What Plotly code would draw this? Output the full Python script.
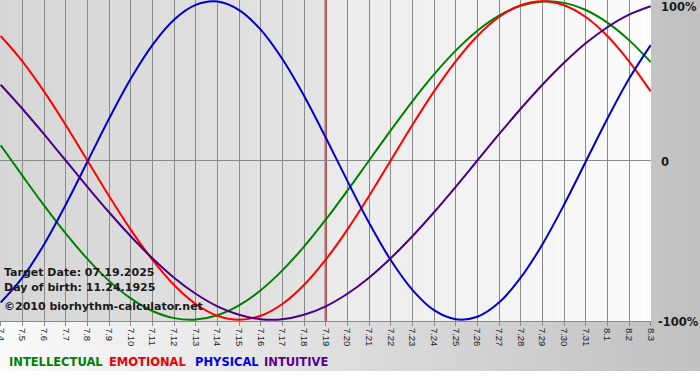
import plotly.graph_objects as go

# ---- data ----
dates = ["7.4", "7.5", "7.6", "7.7", "7.8", "7.9", "7.10", "7.11", "7.12", "7.13",
         "7.14", "7.15", "7.16", "7.17", "7.18", "7.19", "7.20", "7.21", "7.22", "7.23",
         "7.24", "7.25", "7.26", "7.27", "7.28", "7.29", "7.30", "7.31", "8.1", "8.2", "8.3"]

physical = [-89.2, -73.6, -52.7, -27.8, -0.8, 26.2, 51.3, 72.5, 88.4, 97.7,
            99.8, 94.5, 82.2, 63.7, 40.6, 14.4, -12.8, -39.1, -62.5, -81.2,
            -94.0, -99.7, -98.1, -89.2, -73.6, -52.7, -27.8, -0.8, 26.2, 51.3, 72.5]

emotional = [78.2, 62.3, 43.4, 22.3, 0.0, -22.3, -43.4, -62.3, -78.2, -90.1,
             -97.5, -100.0, -97.5, -90.1, -78.2, -62.3, -43.4, -22.3, 0.0, 22.3,
             43.4, 62.3, 78.2, 90.1, 97.5, 100.0, 97.5, 90.1, 78.2, 62.3, 43.4]

intellectual = [9.5, -9.5, -28.2, -45.8, -61.8, -75.6, -86.6, -94.5, -99.0, -99.9,
                -97.2, -91.0, -81.5, -69.0, -54.1, -37.2, -18.9, 0.0, 18.9, 37.2,
                54.1, 69.0, 81.5, 91.0, 97.2, 99.9, 99.0, 94.5, 86.6, 75.6, 61.8]

intuitive = [47.6, 32.5, 16.5, 0.0, -16.5, -32.5, -47.6, -61.4, -73.6, -83.7,
             -91.6, -96.9, -99.7, -99.7, -96.9, -91.6, -83.7, -73.6, -61.4, -47.6,
             -32.5, -16.5, 0.0, 16.5, 32.5, 47.6, 61.4, 73.6, 83.7, 91.6, 96.9]

target_index = 15  # 7.19
right_labels = ["100%", "0", "-100%"]
info_lines = ["Target Date: 07.19.2025", "Day of birth: 11.24.1925", "\u00a92010 biorhythm-calculator.net"]
legend_names = ["INTELLECTUAL", "EMOTIONAL", "PHYSICAL", "INTUITIVE"]

# ---- styles ----
W, H = 700, 380
PW, PH = 651, 321  # plot area in pixels
C_GREEN, C_RED, C_BLUE, C_PURPLE = "#008000", "#ff0000", "#0000cc", "#4b0082"
LEG_COLORS = ["#008000", "#ee0000", "#0000ee", "#5a0090"]
GRID = "#8a8a8a"

def px(x):
    return x / PW

def py(y):
    return (PH - y) / PH

def lerp_col(c0, c1, t):
    return "rgb(%d,%d,%d)" % tuple(round(a + (b - a) * t) for a, b in zip(c0, c1))

x = list(range(len(dates)))
fig = go.Figure()
series = [(intellectual, C_GREEN, legend_names[0]), (emotional, C_RED, legend_names[1]),
          (physical, C_BLUE, legend_names[2]), (intuitive, C_PURPLE, legend_names[3])]
for vals, col, name in series:
    fig.add_trace(go.Scatter(x=x, y=vals, mode="lines", name=name,
                             line=dict(color=col, width=2, shape="spline", smoothing=1.0),
                             hoverinfo="skip"))

shapes = []
# page background horizontal gradient (light -> gray), down to y=371
N = 70
for i in range(N):
    x0 = W * i / N
    x1 = W * (i + 1) / N + 0.5
    t = (i + 0.5) / N
    shapes.append(dict(type="rect", xref="paper", yref="paper", layer="below",
                       x0=px(x0), x1=px(x1), y0=py(371), y1=py(0),
                       fillcolor=lerp_col((250, 250, 250), (192, 192, 192), t), line=dict(width=0)))
# plot area, left part (before target date)
xt = 0.7 + target_index * (650.0 / 30)
N2 = 30
for i in range(N2):
    x0 = xt * i / N2
    x1 = xt * (i + 1) / N2 + 0.5
    t = (i + 0.5) / N2
    shapes.append(dict(type="rect", xref="paper", yref="paper", layer="below",
                       x0=px(x0), x1=px(x1), y0=0, y1=1,
                       fillcolor=lerp_col((214, 214, 214), (228, 228, 228), t), line=dict(width=0)))
# plot area, right part (after target date)
for i in range(N2):
    x0 = xt + (PW - xt) * i / N2
    x1 = xt + (PW - xt) * (i + 1) / N2 + 0.5
    t = (i + 0.5) / N2
    shapes.append(dict(type="rect", xref="paper", yref="paper", layer="below",
                       x0=px(x0), x1=px(min(x1, PW)), y0=0, y1=1,
                       fillcolor=lerp_col((234, 234, 234), (252, 252, 252), t), line=dict(width=0)))
# target date line
shapes.append(dict(type="line", xref="x", yref="paper", layer="between",
                   x0=target_index, x1=target_index, y0=0, y1=1,
                   line=dict(color="#7a1010", width=2)))

annotations = []
# right-hand scale labels
for lab, yy, xx in zip(right_labels, [7, 162, 322], [659, 659, 656]):
    annotations.append(dict(xref="paper", yref="paper", x=px(xx), y=py(yy), xanchor="left", yanchor="middle",
                            text="<b>%s</b>" % lab, showarrow=False,
                            font=dict(family="DejaVu Sans", size=11.5, color="#1a1a1a")))
# info text
for lab, yy in zip(info_lines, [272, 287, 306]):
    annotations.append(dict(xref="paper", yref="paper", x=px(2), y=py(yy), xanchor="left", yanchor="middle",
                            text="<b>%s</b>" % lab, showarrow=False,
                            font=dict(family="DejaVu Sans", size=11, color="#1a1a1a")))
# legend
for lab, col, xx in zip(legend_names, LEG_COLORS, [7, 107, 193, 262]):
    annotations.append(dict(xref="paper", yref="paper", x=px(xx), y=py(362), xanchor="left", yanchor="middle",
                            text="<b>%s</b>" % lab, showarrow=False,
                            font=dict(family="DejaVu Sans", size=11.5, color=col)))

fig.update_layout(
    width=W, height=H,
    margin=dict(l=0, r=W - PW, t=0, b=H - PH, pad=0),
    paper_bgcolor="white", plot_bgcolor="rgba(0,0,0,0)",
    showlegend=False,
    shapes=shapes, annotations=annotations,
    xaxis=dict(range=[-0.7 * 30 / 650, 30 + 0.3 * 30 / 650], tickvals=x, ticktext=dates,
               tickangle=90, showgrid=True, gridcolor=GRID, gridwidth=1,
               showline=True, linecolor=GRID, linewidth=1, mirror=True,
               ticks="outside", ticklen=4, tickcolor=GRID, zeroline=False, automargin=False,
               ticklabeloverflow="allow",
               tickfont=dict(family="Liberation Sans", size=9.5, color="#222222"), fixedrange=True),
    yaxis=dict(range=[-100.8, 100.8], tickvals=[0], showticklabels=False, showgrid=True,
               gridcolor=GRID, gridwidth=1, zeroline=False, showline=False, ticks="",
               automargin=False, fixedrange=True),
)

fig.write_html("out.html")
